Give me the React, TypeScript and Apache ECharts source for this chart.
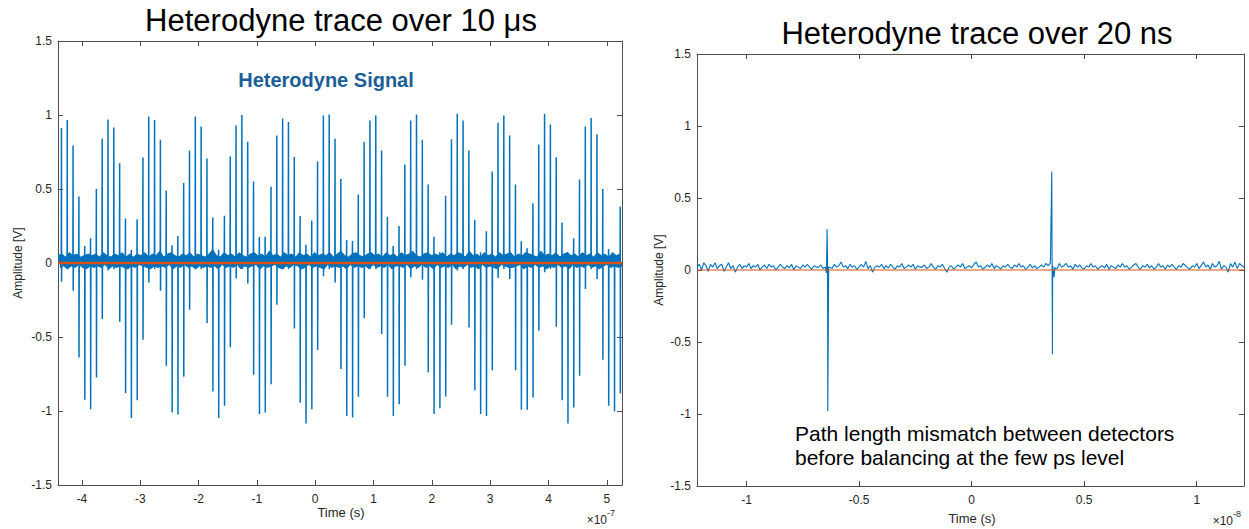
import React, { useEffect, useRef } from "react";
import * as echarts from "echarts";

// ---------- Left panel (time in units of 1e-7 s) ----------
const LEFT_X_MIN = -4.41;
const LEFT_X_MAX = 5.26;
const leftTicks = [-4, -3, -2, -1, 0, 1, 2, 3, 4, 5];
const leftSpikeStart = -4.351;
const leftSpikePeriod = 0.0998;
const leftSpikePos = [
  0.913, 0.967, 0.794, 0.45, 0.115, 0.167, 0.5, 0.84, 0.97, 0.915, 0.674, 0.3, 0.088, 0.295, 0.712, 0.99, 0.967, 0.832, 0.49, 0.12, 0.183, 0.541, 0.76, 0.99,
  0.922, 0.706, 0.307, 0.09, 0.32, 0.719, 0.929, 1.0, 0.82, 0.55, 0.176, 0.178, 0.516, 0.861, 0.976, 0.952, 0.717, 0.318, 0.124, 0.286, 0.685, 0.997, 1.003, 0.839,
  0.568, 0.156, 0.149, 0.462, 0.818, 0.963, 0.997, 0.76, 0.313, 0.115, 0.25, 0.665, 0.963, 1.003, 0.832, 0.53, 0.178, 0.072, 0.455, 0.836, 1.008, 0.963, 0.76, 0.293,
  0.072, 0.214, 0.618, 0.947, 0.997, 0.861, 0.53, 0.147, 0.1, 0.404, 0.8, 1.008, 0.936, 0.715, 0.273, 0.072, 0.167, 0.564, 0.922, 0.979, 0.87, 0.5, 0.095, 0.05, 0.381,
];
const leftSpikeNeg = [
  -0.126, -0.03, -0.187, -0.638, -0.924, -0.988, -0.773, -0.379, -0.05, -0.04, -0.397, -0.879, -1.048, -0.927, -0.519, -0.131, -0.04, -0.187, -0.694, -1.01, -1.024, -0.769, -0.316, -0.04,
  -0.04, -0.406, -0.868, -1.048, -0.965, -0.57, -0.104, -0.04, -0.138, -0.755, -1.021, -1.01, -0.82, -0.282, -0.04, -0.04, -0.442, -0.945, -1.085, -0.988, -0.588, -0.09, -0.04, -0.131,
  -0.717, -1.033, -1.044, -0.904, -0.372, -0.04, -0.04, -0.48, -0.904, -1.033, -0.954, -0.694, -0.097, -0.04, -0.113, -0.74, -1.021, -0.981, -0.902, -0.417, -0.05, -0.04, -0.435, -0.859,
  -1.021, -1.033, -0.724, -0.101, -0.04, -0.108, -0.724, -0.992, -0.992, -0.909, -0.458, -0.063, -0.04, -0.43, -0.927, -1.085, -0.976, -0.762, -0.176, -0.04, -0.108, -0.654, -0.965, -1.003, -0.882,
];
const leftSpikeBaseBefore = 0.02;
const leftSpikeBaseAfter = 0.0;
// upper and lower edges of the dense noise band
const leftNoiseUpper = [
  0.05, 0.06, 0.04, 0.07, 0.05, 0.06, 0.04, 0.05, 0.06, 0.05,
  0.06, 0.04, 0.07, 0.05, 0.04, 0.06, 0.05, 0.07, 0.04, 0.06,
  0.04, 0.06, 0.05, 0.07, 0.04, 0.06, 0.05, 0.08, 0.04, 0.06,
  0.07, 0.05, 0.04, 0.06, 0.05, 0.07, 0.04, 0.06, 0.05, 0.04,
  0.06, 0.09, 0.05, 0.04, 0.07, 0.05, 0.06, 0.04, 0.07, 0.05,
  0.04, 0.06, 0.07, 0.05, 0.06, 0.04, 0.08, 0.05, 0.06, 0.04,
  0.07, 0.05, 0.06, 0.04, 0.07, 0.05, 0.06, 0.04, 0.07, 0.05,
  0.06, 0.05, 0.07, 0.04, 0.06, 0.08, 0.05, 0.04, 0.06, 0.07,
  0.05, 0.04, 0.06, 0.07, 0.05, 0.06, 0.04, 0.07, 0.05, 0.06,
  0.04, 0.07, 0.05, 0.06, 0.08, 0.05, 0.04, 0.06, 0.07, 0.05,
  0.06, 0.05, 0.07, 0.04, 0.06, 0.05, 0.07, 0.06, 0.04, 0.08,
  0.05, 0.06, 0.04, 0.07, 0.05, 0.06, 0.04, 0.07, 0.05, 0.06,
  0.07, 0.04, 0.06, 0.05, 0.07, 0.06, 0.05, 0.04, 0.08, 0.05,
  0.06, 0.05, 0.07, 0.04, 0.06, 0.07, 0.05, 0.06, 0.04, 0.07,
  0.05, 0.06, 0.04, 0.07, 0.05, 0.06, 0.04, 0.07, 0.05, 0.06,
];
const leftNoiseLower = [
  -0.03, -0.02, -0.04, -0.02, -0.03, -0.01, -0.03, -0.04, -0.02, -0.03,
  -0.02, -0.03, -0.01, -0.04, -0.02, -0.03, -0.02, -0.03, -0.04, -0.02,
  -0.03, -0.01, -0.02, -0.03, -0.04, -0.02, -0.03, -0.02, -0.03, -0.01,
  -0.04, -0.02, -0.03, -0.01, -0.03, -0.02, -0.04, -0.02, -0.03, -0.02,
  -0.03, -0.02, -0.04, -0.01, -0.03, -0.02, -0.03, -0.01, -0.04, -0.02,
  -0.03, -0.02, -0.01, -0.04, -0.02, -0.03, -0.02, -0.01, -0.03, -0.04,
  -0.02, -0.03, -0.01, -0.02, -0.04, -0.03, -0.01, -0.03, -0.02, -0.03,
  -0.04, -0.01, -0.03, -0.02, -0.03, -0.02, -0.04, -0.01, -0.03, -0.02,
  -0.03, -0.02, -0.04, -0.01, -0.03, -0.02, -0.03, -0.01, -0.04, -0.02,
  -0.02, -0.03, -0.01, -0.04, -0.02, -0.03, -0.01, -0.03, -0.02, -0.04,
  -0.01, -0.03, -0.02, -0.03, -0.01, -0.04, -0.02, -0.03, -0.01, -0.03,
  -0.02, -0.04, -0.01, -0.03, -0.02, -0.03, -0.04, -0.01, -0.02, -0.03,
  -0.03, -0.02, -0.01, -0.04, -0.02, -0.03, -0.01, -0.03, -0.02, -0.04,
  -0.02, -0.03, -0.01, -0.03, -0.02, -0.04, -0.01, -0.03, -0.02, -0.03,
  -0.01, -0.03, -0.02, -0.04, -0.02, -0.01, -0.03, -0.02, -0.03, -0.02,
];

// ---------- Right panel (time in units of 1e-8 s) ----------
const RIGHT_X_MIN = -1.22;
const RIGHT_X_MAX = 1.21;
const rightTicks = [-1, -0.5, 0, 0.5, 1];
const rightNoiseStart = -1.22;
const rightNoiseStep = 0.01;
const rightNoise = [
  0.02, 0.04, 0.0, 0.05, 0.03, -0.01, 0.04, 0.02, 0.05, 0.01, 0.03, 0.04, -0.01, 0.02, 0.05, 0.01, 0.03, -0.015, 0.02, 0.04,
  0.01, 0.03, 0.02, 0.045, 0.01, 0.03, 0.02, 0.04, 0.0, 0.02, 0.035, 0.01, 0.04, 0.02, 0.03, 0.0, 0.02, 0.04, 0.02, 0.01,
  0.03, 0.015, 0.04, 0.0, 0.03, 0.02, 0.01, 0.035, 0.02, 0.04, 0.02, 0.005, 0.03, 0.02, 0.02, 0.035, 0.01, 0.02, 0.03, 0.02,
  0.01, 0.04, 0.02, 0.03, 0.055, 0.02, 0.03, 0.01, 0.04, 0.02, 0.03, 0.005, 0.02, 0.04, 0.02, 0.06, 0.01, 0.03, -0.015, 0.02,
  0.03, 0.02, 0.04, 0.01, 0.03, 0.015, 0.04, 0.02, 0.005, 0.03, 0.02, 0.045, 0.01, 0.02, 0.035, 0.02, 0.04, 0.005, 0.03, 0.02,
  0.02, 0.035, 0.01, 0.02, 0.045, 0.02, 0.005, 0.03, 0.02, 0.04, 0.01, -0.015, 0.02, 0.03, 0.005, 0.02, 0.035, 0.02, 0.045, 0.01,
  0.02, 0.03, 0.015, 0.04, 0.055, 0.02, 0.03, 0.005, 0.02, 0.035, 0.02, 0.045, 0.01, 0.03, 0.02, 0.005, 0.03, 0.02, 0.04, 0.02,
  0.01, 0.035, 0.02, 0.045, 0.02, 0.03, 0.005, 0.02, 0.04, 0.015, 0.03, 0.01, 0.02, 0.035, 0.02, 0.045, 0.03, 0.05, 0.03, 0.02,
  0.01, 0.045, 0.02, 0.03, 0.045, 0.02, 0.03, 0.005, 0.04, 0.02, 0.035, 0.015, 0.005, 0.03, 0.02, 0.045, 0.02, 0.03, 0.005, 0.02,
  0.03, 0.015, 0.04, 0.005, 0.03, 0.02, 0.01, 0.035, 0.02, 0.045, 0.02, 0.03, 0.005, 0.02, 0.035, 0.045, 0.02, 0.005, 0.03, 0.02,
  0.04, 0.015, 0.03, 0.005, 0.02, 0.045, 0.02, 0.03, 0.005, 0.035, 0.02, 0.04, 0.02, 0.005, 0.03, 0.02, 0.045, 0.03, 0.015, 0.005,
  0.03, 0.02, 0.045, 0.01, 0.03, 0.055, 0.02, 0.035, 0.005, 0.045, 0.02, 0.03, 0.06, 0.005, 0.03, 0.02, -0.015, 0.045, 0.02, 0.055,
  0.01, 0.045, 0.03, 0.02,
];
const rightSpikeTimes = [-0.645, -0.642, -0.639, -0.635, 0.353, 0.356, 0.359, 0.366, 0.372];
const rightSpikeValues = [-0.02, 0.284, -0.98, 0.02, 0.05, 0.684, -0.585, -0.05, 0.01];

const yMin = -1.5;
const yMax = 1.5;
const yStep = 0.5;

const BLUE = "#0072BD";
const ORANGE = "#D95319";
const AXIS = "#4d4d4d";
const LABEL = "#262626";
const FONT = "Liberation Sans, Arial, Helvetica, sans-serif";

function bandEdge(values: number[], offset: number): number[][] {
  const n = values.length;
  const step = (LEFT_X_MAX - LEFT_X_MIN) / (n - 0.5);
  return values.map((v, i) => [Math.min(LEFT_X_MAX, LEFT_X_MIN + (i + offset) * step), v]);
}

function buildSpikes(): number[][] {
  const pts: number[][] = [];
  leftSpikePos.forEach((v, k) => {
    const t = leftSpikeStart + k * leftSpikePeriod;
    pts.push([t - 0.003, leftSpikeBaseBefore]);
    pts.push([t, v]);
    pts.push([t + 0.002, leftSpikeNeg[k]]);
    pts.push([t + 0.005, leftSpikeBaseAfter]);
  });
  return pts;
}

function buildRight(): number[][] {
  const pts: number[][] = [];
  rightNoise.forEach((v, i) => pts.push([rightNoiseStart + i * rightNoiseStep, v]));
  rightSpikeTimes.forEach((t, i) => pts.push([t, rightSpikeValues[i]]));
  pts.sort((a, b) => a[0] - b[0]);
  return pts;
}

function xAxisPair(grid: number, min: number, max: number, ticks: number[], fmt: (v: number) => string) {
  const common = {
    type: "value" as const,
    gridIndex: grid,
    min,
    max,
    splitLine: { show: false },
    axisLine: { show: true, onZero: false, lineStyle: { color: AXIS, width: 1 } },
    axisTick: { show: true, inside: true, length: 5, customValues: ticks, lineStyle: { color: AXIS } },
  };
  return [
    {
      ...common,
      position: "bottom",
      axisLabel: { show: true, customValues: ticks, color: LABEL, fontSize: 12, margin: 8, fontFamily: FONT, formatter: fmt },
    },
    { ...common, position: "top", axisLabel: { show: false } },
  ];
}

function yAxisPair(grid: number) {
  const common = {
    type: "value" as const,
    gridIndex: grid,
    min: yMin,
    max: yMax,
    interval: yStep,
    splitLine: { show: false },
    axisLine: { show: true, onZero: false, lineStyle: { color: AXIS, width: 1 } },
    axisTick: { show: true, inside: true, length: 5, lineStyle: { color: AXIS } },
  };
  return [
    { ...common, position: "left", axisLabel: { show: true, color: LABEL, fontSize: 12, margin: 6, fontFamily: FONT } },
    { ...common, position: "right", axisLabel: { show: false } },
  ];
}

export default function App() {
  const ref = useRef<HTMLDivElement>(null);

  useEffect(() => {
    if (!ref.current) return;
    const chart = echarts.init(ref.current, null, { renderer: "svg" });
    const rightData = buildRight();

    const txt = (x: number, y: number, text: string, size: number, extra: any = {}) => ({
      type: "text",
      x,
      y,
      silent: true,
      ...extra,
      style: {
        text,
        fontSize: size,
        fontFamily: FONT,
        fill: "#000",
        align: "center",
        verticalAlign: "middle",
        ...(extra.style || {}),
      },
    });

    const bandSeries = (data: number[][]) => ({
      type: "line",
      xAxisIndex: 0,
      yAxisIndex: 0,
      data,
      showSymbol: false,
      silent: true,
      lineStyle: { color: BLUE, width: 1 },
      areaStyle: { color: BLUE, opacity: 1 },
      z: 1,
    });

    chart.setOption({
      animation: false,
      backgroundColor: "#ffffff",
      grid: [
        { left: 58, top: 41, width: 564, height: 444, containLabel: false },
        { left: 697, top: 54, width: 547, height: 432, containLabel: false },
      ],
      xAxis: [
        ...xAxisPair(0, LEFT_X_MIN, LEFT_X_MAX, leftTicks, (v: number) => String(Math.round(v))),
        ...xAxisPair(1, RIGHT_X_MIN, RIGHT_X_MAX, rightTicks, (v: number) => String(Math.round(v * 10) / 10)),
      ],
      yAxis: [...yAxisPair(0), ...yAxisPair(1)],
      series: [
        bandSeries(bandEdge(leftNoiseUpper, 0)),
        bandSeries(bandEdge(leftNoiseLower, 0.5)),
        {
          type: "line",
          xAxisIndex: 0,
          yAxisIndex: 0,
          data: buildSpikes(),
          showSymbol: false,
          silent: true,
          lineStyle: { color: BLUE, width: 1.5 },
          z: 2,
        },
        {
          type: "line",
          xAxisIndex: 0,
          yAxisIndex: 0,
          data: [
            [LEFT_X_MIN, 0],
            [LEFT_X_MAX, 0],
          ],
          showSymbol: false,
          silent: true,
          lineStyle: { color: ORANGE, width: 2.5 },
          z: 3,
        },
        {
          type: "line",
          xAxisIndex: 2,
          yAxisIndex: 2,
          data: rightData,
          showSymbol: false,
          silent: true,
          lineStyle: { color: BLUE, width: 1.1 },
          z: 2,
        },
        {
          type: "line",
          xAxisIndex: 2,
          yAxisIndex: 2,
          data: [
            [RIGHT_X_MIN, 0],
            [RIGHT_X_MAX, 0],
          ],
          showSymbol: false,
          silent: true,
          lineStyle: { color: ORANGE, width: 1.2 },
          z: 3,
        },
      ],
      graphic: [
        txt(341, 20, "Heterodyne trace over 10 μs", 31),
        txt(977, 33, "Heterodyne trace over 20 ns", 31),
        txt(326, 80, "Heterodyne Signal", 20, { style: { fill: "#1B5E97", fontWeight: "bold" } }),
        txt(795, 433, "Path length mismatch between detectors", 21, { style: { align: "left" } }),
        txt(795, 457, "before balancing at the few ps level", 21, { style: { align: "left" } }),
        txt(18, 263, "Amplitude [V]", 12, { rotation: Math.PI / 2, style: { fill: LABEL } }),
        txt(659, 270, "Amplitude [V]", 12, { rotation: Math.PI / 2, style: { fill: LABEL } }),
        txt(341, 512, "Time (s)", 13, { style: { fill: LABEL } }),
        txt(972, 518, "Time (s)", 13, { style: { fill: LABEL } }),
        txt(607, 520, "×10", 12, { style: { fill: LABEL, align: "right" } }),
        txt(607, 513, "-7", 9, { style: { fill: LABEL, align: "left" } }),
        txt(1233, 521, "×10", 12, { style: { fill: LABEL, align: "right" } }),
        txt(1233, 514, "-8", 9, { style: { fill: LABEL, align: "left" } }),
      ],
    });

    return () => chart.dispose();
  }, []);

  return (
    <div
      ref={ref}
      style={{ position: "fixed", left: 0, top: 0, width: 1249, height: 529, background: "#fff" }}
    />
  );
}
